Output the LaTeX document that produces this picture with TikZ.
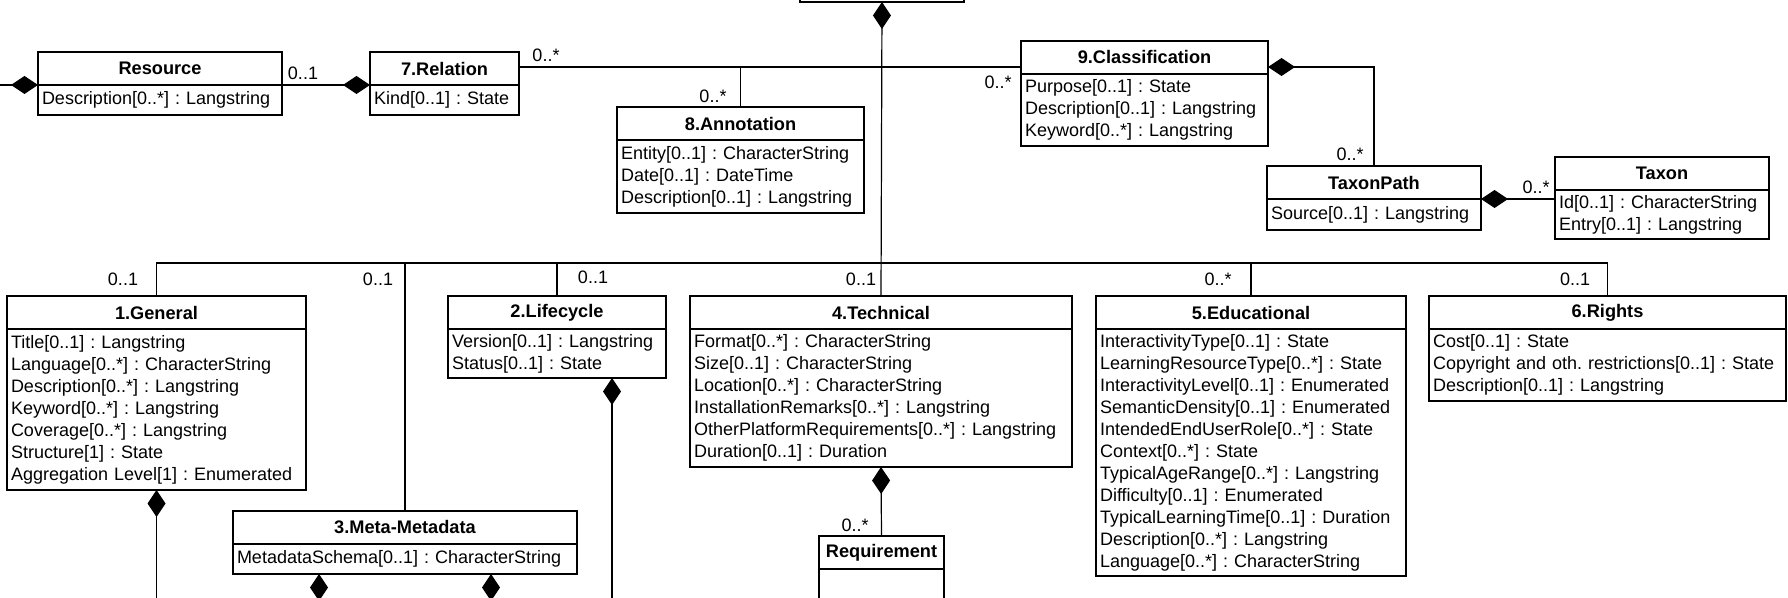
\documentclass[tikz,border=0pt]{standalone}
\usepackage{fontspec}
\setmainfont{Liberation Sans}
\usetikzlibrary{arrows.meta,positioning}
\frenchspacing
\tikzstyle{ctitle}=[draw=black,line width=1pt,outer sep=0pt,inner sep=0pt,
  minimum height=16.5pt,font=\fontsize{9.1}{11}\selectfont\bfseries]
\tikzstyle{cbody}=[draw=black,line width=1pt,outer sep=0pt,inner xsep=2pt,
  inner ysep=0pt,align=left,font=\fontsize{9}{11}\selectfont\frenchspacing]
\tikzstyle{mult}=[inner sep=0pt,font=\fontsize{9}{11}\selectfont]
\tikzstyle{link}=[line width=0.6pt]
\tikzstyle{comp}=[line width=0.6pt,{Diamond[length=13.5pt,width=9pt]}-]

\begin{document}
\begin{tikzpicture}[x=0.5pt,y=-0.5pt]
            \useasboundingbox (0,0) rectangle (1788,598);
            \clip (0,0) rectangle (1788,598);
            \coordinate (bus) at (0,263);
            \coordinate (up) at (0,67);
            \coordinate (lft) at (0,85);
            \coordinate (bot) at (0,640);
            \node [style=ctitle,minimum width=82pt] (lom) at (882,-14.5) {};
            \node [style=ctitle,minimum width=122pt] (res) at (160,68.5) {Resource};
            \node [style=cbody,text width=118pt,minimum height=15pt,below=0pt of res] (resb) {Description[0..*] : Langstring};
            \node [style=ctitle,minimum width=74.5pt] (rel) at (444.5,68.5) {7.Relation};
            \node [style=cbody,text width=70.5pt,minimum height=15pt,below=0pt of rel] (relb) {Kind[0..1] : State};
            \node [style=ctitle,minimum width=123.5pt] (ann) at (740.5,123.5) {8.Annotation};
            \node [style=cbody,text width=119.5pt,minimum height=36.5pt,below=0pt of ann] (annb) {Entity[0..1] : CharacterString\\Date[0..1] : DateTime\\Description[0..1] : Langstring};
            \node [style=ctitle,minimum width=123.5pt] (cls) at (1144.5,57.5) {9.Classification};
            \node [style=cbody,text width=119.5pt,minimum height=36pt,below=0pt of cls] (clsb) {Purpose[0..1] : State\\Description[0..1] : Langstring\\Keyword[0..*] : Langstring};
            \node [style=ctitle,minimum width=107pt] (tpath) at (1374,182.5) {TaxonPath};
            \node [style=cbody,text width=103pt,minimum height=15.5pt,below=0pt of tpath] (tpathb) {Source[0..1] : Langstring};
            \node [style=ctitle,minimum width=107pt] (taxon) at (1662,173.5) {Taxon};
            \node [style=cbody,text width=103pt,minimum height=24.5pt,below=0pt of taxon] (taxonb) {Id[0..1] : CharacterString\\Entry[0..1] : Langstring};
            \node [style=ctitle,minimum width=149.5pt] (gen) at (156.5,312.5) {1.General};
            \node [style=cbody,text width=145.5pt,minimum height=80.5pt,below=0pt of gen] (genb) {Title[0..1] : Langstring\\Language[0..*] : CharacterString\\Description[0..*] : Langstring\\Keyword[0..*] : Langstring\\Coverage[0..*] : Langstring\\Structure[1] : State\\Aggregation Level[1] : Enumerated};
            \node [style=ctitle,minimum width=109pt] (life) at (557,312.5) {2.Lifecycle};
            \node [style=cbody,text width=105pt,minimum height=24.5pt,below=0pt of life] (lifeb) {Version[0..1] : Langstring\\Status[0..1] : State};
            \node [style=ctitle,minimum width=191pt] (tech) at (881,312.5) {4.Technical};
            \node [style=cbody,text width=187pt,minimum height=69pt,below=0pt of tech] (techb) {Format[0..*] : CharacterString\\Size[0..1] : CharacterString\\Location[0..*] : CharacterString\\InstallationRemarks[0..*] : Langstring\\OtherPlatformRequirements[0..*] : Langstring\\Duration[0..1] : Duration};
            \node [style=ctitle,minimum width=155pt] (edu) at (1251,312.5) {5.Educational};
            \node [style=cbody,text width=151pt,minimum height=123.5pt,below=0pt of edu] (edub) {InteractivityType[0..1] : State\\LearningResourceType[0..*] : State\\InteractivityLevel[0..1] : Enumerated\\SemanticDensity[0..1] : Enumerated\\IntendedEndUserRole[0..*] : State\\Context[0..*] : State\\TypicalAgeRange[0..*] : Langstring\\Difficulty[0..1] : Enumerated\\TypicalLearningTime[0..1] : Duration\\Description[0..*] : Langstring\\Language[0..*] : CharacterString};
            \node [style=ctitle,minimum width=178.5pt] (rights) at (1607.5,312.5) {6.Rights};
            \node [style=cbody,text width=174.5pt,minimum height=36pt,below=0pt of rights] (rightsb) {Cost[0..1] : State\\Copyright and oth. restrictions[0..1] : State\\Description[0..1] : Langstring};
            \node [style=ctitle,minimum width=172pt] (meta) at (405,527.5) {3.Meta-Metadata};
            \node [style=cbody,text width=168pt,minimum height=15pt,below=0pt of meta] (metab) {MetadataSchema[0..1] : CharacterString};
            \node [style=ctitle,minimum width=62.5pt] (req) at (881.5,552.5) {Requirement};
            \node [style=cbody,text width=58.5pt,minimum height=25.5pt,below=0pt of req] (reqb) {};
            \coordinate (lifed) at ([xshift=-27pt]lifeb.south east);
            \coordinate (metal) at ([xshift=43pt]metab.south west);
            \coordinate (metar) at ([xshift=-43pt]metab.south east);
            \node [style=mult] (m1) at (303,73) {0..1};
            \node [style=mult] (m2) at (546,55) {0..*};
            \node [style=mult] (m3) at (713,96) {0..*};
            \node [style=mult] (m4) at (998,82) {0..*};
            \node [style=mult] (m5) at (1350,154) {0..*};
            \node [style=mult] (m6) at (1536,187) {0..*};
            \node [style=mult] (m7) at (123,279) {0..1};
            \node [style=mult] (m8) at (378,279) {0..1};
            \node [style=mult] (m9) at (593,277) {0..1};
            \node [style=mult] (m10) at (861,279) {0..1};
            \node [style=mult] (m11) at (1218,279) {0..*};
            \node [style=mult] (m12) at (1575,279) {0..1};
            \node [style=mult] (m13) at (855,525) {0..*};
            \draw [style=comp] (lom.south) to (tech.north);
            \draw [style=link] (gen.north) -- (gen.north |- bus) -- (rights.north |- bus) -- (rights.north);
            \draw [style=link] (meta.north) to (meta.north |- bus);
            \draw [style=link] (life.north) to (life.north |- bus);
            \draw [style=link] (edu.north) to (edu.north |- bus);
            \draw [style=link] (rel.east |- up) to (cls.west |- up);
            \draw [style=link] (ann.north) to (ann.north |- up);
            \draw [style=comp] (rel.south west) to (res.south east);
            \draw [style=comp] (res.south west) to (lft);
            \draw [style=comp] (cls.east |- up) -| (tpath.north);
            \draw [style=comp] (tpath.south east) to (tpath.south east -| taxon.west);
            \draw [style=comp] (genb.south) to (genb.south |- bot);
            \draw [style=comp] (lifed) to (lifed |- bot);
            \draw [style=comp] (metal) to (metal |- bot);
            \draw [style=comp] (metar) to (metar |- bot);
            \draw [style=comp] (techb.south) to (req.north);
    \end{tikzpicture}
\end{document}
